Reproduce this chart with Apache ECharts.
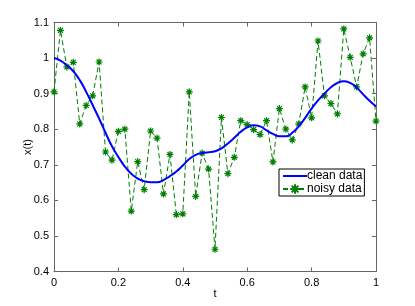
<!DOCTYPE html>
<html><head><meta charset="utf-8">
<script src="https://cdn.jsdelivr.net/npm/echarts@6/dist/echarts.min.js"></script>
<style>html,body{margin:0;padding:0;background:#fff}#c{width:415px;height:306px}</style>
</head><body><div id="c"></div>
<script>
var tValues = [0,0.02,0.04,0.06,0.08,0.10,0.12,0.14,0.16,0.18,0.20,0.22,0.24,0.26,0.28,0.30,0.32,0.34,0.36,0.38,0.40,0.42,0.44,0.46,0.48,0.50,0.52,0.54,0.56,0.58,0.60,0.62,0.64,0.66,0.68,0.70,0.72,0.74,0.76,0.78,0.80,0.82,0.84,0.86,0.88,0.90,0.92,0.94,0.96,0.98,1.00];
var cleanData = [1.000,0.993,0.980,0.963,0.938,0.905,0.868,0.830,0.790,0.752,0.722,0.695,0.675,0.661,0.654,0.651,0.651,0.657,0.668,0.681,0.698,0.716,0.728,0.733,0.735,0.738,0.746,0.760,0.776,0.793,0.805,0.811,0.808,0.797,0.787,0.780,0.780,0.790,0.808,0.832,0.858,0.881,0.900,0.918,0.930,0.935,0.930,0.917,0.898,0.880,0.864];
var noisyData = [0.905,1.078,0.975,0.988,0.815,0.867,0.894,0.989,0.736,0.713,0.794,0.800,0.570,0.709,0.630,0.795,0.775,0.618,0.729,0.560,0.562,0.905,0.611,0.733,0.688,0.4625,0.833,0.675,0.721,0.824,0.813,0.799,0.785,0.824,0.708,0.858,0.800,0.770,0.815,0.919,0.832,1.048,0.894,0.872,0.843,1.082,1.002,0.919,1.012,1.057,0.823];
var xTicks = [0,0.2,0.4,0.6,0.8,1];
var yTicks = [0.4,0.5,0.6,0.7,0.8,0.9,1,1.1];
var seriesNames = ['clean data','noisy data'];

var chart = echarts.init(document.getElementById('c'), null, {renderer:'canvas'});
var font = 'Liberation Sans, Arial, Helvetica, sans-serif';
var axisCol = '#666';
function fmt(v){ return String(+(+v).toFixed(2)); }
var star = 'path://M0 5 L10 5 M5 0 L5 10 M1.5 1.5 L8.5 8.5 M1.5 8.5 L8.5 1.5';
var lineIcon = 'path://M0 0 L24 0 L24 2 L0 2 Z';
function pairs(arr){ return tValues.map(function(t,i){ return [t, arr[i]]; }); }
var common = {
  axisLine:{show:true, onZero:false, lineStyle:{color:axisCol, width:1}},
  axisTick:{show:true, inside:true, length:4, lineStyle:{color:axisCol}},
  splitLine:{show:false}
};
chart.setOption({
  backgroundColor:'#fff',
  animation:false,
  grid:{left:54, right:39, top:22.5, bottom:34.5},
  xAxis:[
    Object.assign({type:'value', min:0, max:1, interval:0.2, position:'bottom',
      name:'t', nameLocation:'middle', nameGap:17, nameMoveOverlap:false,
      nameTextStyle:{color:'#000', fontSize:11, fontFamily:font},
      axisLabel:{color:'#000', fontSize:11, fontFamily:font, margin:6, formatter:fmt}}, common),
    Object.assign({type:'value', min:0, max:1, interval:0.2, position:'top',
      axisLabel:{show:false}}, common)
  ],
  yAxis:[
    Object.assign({type:'value', min:0.4, max:1.1, interval:0.1, position:'left',
      name:'x(t)', nameLocation:'middle', nameGap:21, nameMoveOverlap:false,
      nameTextStyle:{color:'#000', fontSize:11, fontFamily:font},
      axisLabel:{color:'#000', fontSize:11, fontFamily:font, margin:5, formatter:fmt}}, common),
    Object.assign({type:'value', min:0.4, max:1.1, interval:0.1, position:'right',
      axisLabel:{show:false}}, common)
  ],
  legend:{
    show:true, orient:'vertical', left:279, top:169,
    data:[{name:seriesNames[0], icon:lineIcon}, {name:seriesNames[1]}],
    backgroundColor:'#fff', borderColor:'#000', borderWidth:1,
    padding:[1,2,1,3], itemGap:1, itemWidth:24, itemHeight:12,
    textStyle:{color:'#000', fontSize:12, fontFamily:font, padding:[0,0,0,-5]}
  },
  series:[
    {name:seriesNames[0], type:'line', data:pairs(cleanData), showSymbol:false, symbol:'none',
     smooth:true, lineStyle:{color:'#0000ff', width:2}, itemStyle:{color:'#0000ff'}, z:3},
    {name:seriesNames[1], type:'line', data:pairs(noisyData), symbol:star, symbolSize:7,
     lineStyle:{color:'#008000', width:1, type:[5,3]},
     itemStyle:{color:'#008000', borderColor:'#008000', borderWidth:1.2}, z:2}
  ]
});
</script></body></html>
